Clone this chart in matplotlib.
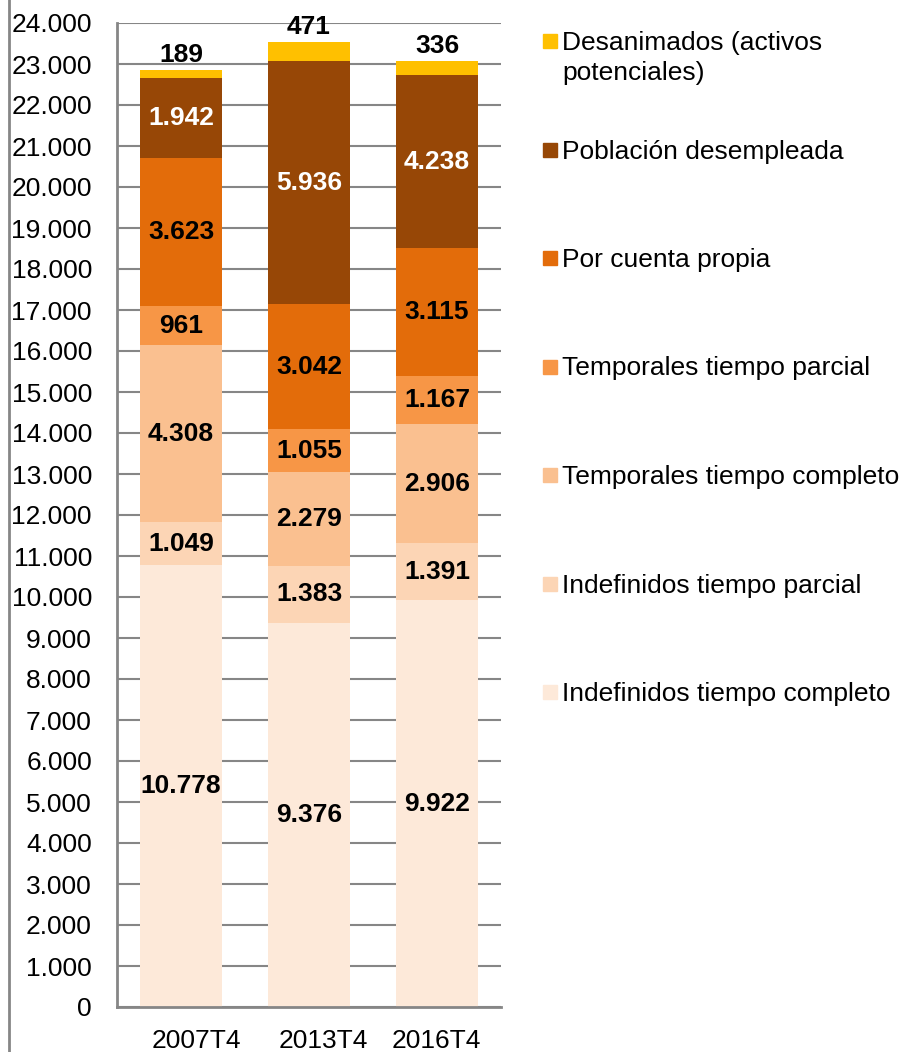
import numpy as np
import matplotlib
matplotlib.use("Agg")
import matplotlib.pyplot as plt
from matplotlib.lines import Line2D
from matplotlib.patches import Rectangle
from matplotlib.ticker import FuncFormatter
from matplotlib.transforms import ScaledTranslation

plt.rcParams['font.family'] = ['Liberation Sans', 'DejaVu Sans']

periodos = ['2007T4', '2013T4', '2016T4']

# series de abajo hacia arriba (miles de personas)
series = [
    'Indefinidos tiempo completo',
    'Indefinidos tiempo parcial',
    'Temporales tiempo completo',
    'Temporales tiempo parcial',
    'Por cuenta propia',
    'Población desempleada',
    'Desanimados (activos\npotenciales)',
]
indef_completo = [10778, 9376, 9922]
indef_parcial = [1049, 1383, 1391]
temp_completo = [4308, 2279, 2906]
temp_parcial = [961, 1055, 1167]
cuenta_propia = [3623, 3042, 3115]
desempleada = [1942, 5936, 4238]
desanimados = [189, 471, 336]

colores = ['#FDE9D9', '#FCD5B5', '#FAC090', '#F79646', '#E36C0A', '#974706', '#FFC000']
color_texto = ['black', 'black', 'black', 'black', 'black', 'white', 'black']

valores = [indef_completo, indef_parcial, temp_completo, temp_parcial,
           cuenta_propia, desempleada, desanimados]

FS = 19

def miles(v, pos=None):
    return f"{int(v):,}".replace(',', '.')

fig = plt.figure(figsize=(9.1, 10.52), dpi=100)
ax = fig.add_axes([117 / 910, 1 - 1007 / 1052, 384 / 910, 984 / 1052])

x = np.arange(len(periodos))
base = np.zeros(len(periodos))
ancho = 0.64
for i, (nombre, vals) in enumerate(zip(series, valores)):
    vals = np.array(vals, dtype=float)
    ax.bar(x, vals, ancho, bottom=base, color=colores[i], zorder=2)
    for xi, b, v in zip(x, base, vals):
        if i == len(series) - 1:
            ax.annotate(miles(v), (xi, b + v), xytext=(0, 2), textcoords='offset points',
                        ha='center', va='bottom', fontsize=FS, fontweight='bold', color='black')
        else:
            ax.text(xi, b + v / 2, miles(v), ha='center', va='center',
                    fontsize=FS, fontweight='bold', color=color_texto[i], zorder=3)
    base += vals

ax.set_xlim(-0.5, 2.5)
ax.set_ylim(0, 24000)
ax.set_yticks(np.arange(0, 24001, 1000))
ax.yaxis.set_major_formatter(FuncFormatter(miles))
ax.set_xticks(x)
ax.set_xticklabels(periodos)
ax.tick_params(axis='y', length=0, pad=18, labelsize=FS)
ax.tick_params(axis='x', length=0, pad=16, labelsize=FS)
# desplazamiento de las etiquetas del eje x como en el original
for lab, dx in zip(ax.get_xticklabels(), [15, 14, -1]):
    lab.set_transform(lab.get_transform() + ScaledTranslation(dx / 100, 0, fig.dpi_scale_trans))
ax.grid(axis='y', color='#868686', linewidth=1.5, zorder=0)
ax.set_axisbelow(True)
for lado in ['top', 'right']:
    ax.spines[lado].set_visible(False)
for lado in ['left', 'bottom']:
    ax.spines[lado].set_color('#868686')
    ax.spines[lado].set_linewidth(2)

# línea del marco izquierdo
fig.add_artist(Line2D([8.7 / 910, 8.7 / 910], [0, 1], color='#868686', linewidth=2,
                      transform=fig.transFigure))

# leyenda manual (orden inverso)
y0 = 1 - 41 / 1052
paso = 108.5 / 1052
for k, i in enumerate(reversed(range(len(series)))):
    yc = y0 - k * paso
    fig.add_artist(Rectangle((543 / 910, yc - 7 / 1052), 14 / 910, 14 / 1052,
                             color=colores[i], transform=fig.transFigure))
    fig.text(562 / 910, yc + 10 / 1052, series[i], ha='left', va='top', fontsize=FS,
             linespacing=1.3)

fig.savefig('out.png', dpi=100)
